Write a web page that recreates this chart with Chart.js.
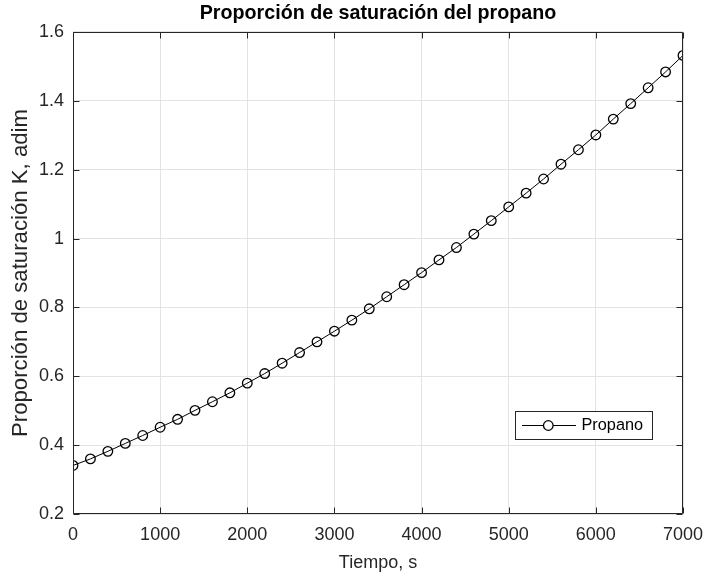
<!DOCTYPE html>
<html><head><meta charset="utf-8">
<script src="https://cdn.jsdelivr.net/npm/chart.js@4/dist/chart.umd.min.js"></script>
<style>html,body{margin:0;padding:0;background:#fff;} #wrap{width:706px;height:577px;}</style>
</head><body><div id="wrap"><canvas id="c" width="706" height="577"></canvas></div>
<script>
const timeS = [0,200,400,600,800,1000,1200,1400,1600,1800,2000,2200,2400,2600,2800,3000,3200,3400,3600,3800,4000,4200,4400,4600,4800,5000,5200,5400,5600,5800,6000,6200,6400,6600,6800,7000];
const kPropano = [0.341,0.360,0.382,0.405,0.428,0.452,0.475,0.501,0.526,0.552,0.580,0.608,0.638,0.669,0.700,0.731,0.763,0.796,0.831,0.866,0.901,0.938,0.974,1.013,1.052,1.092,1.132,1.173,1.216,1.258,1.301,1.347,1.392,1.438,1.484,1.532];
const xTickValues = [0,1000,2000,3000,4000,5000,6000,7000];
const xTickLabels = ['0','1000','2000','3000','4000','5000','6000','7000'];
const yTickValues = [0.2,0.4,0.6,0.8,1.0,1.2,1.4,1.6];
const yTickLabels = ['0.2','0.4','0.6','0.8','1','1.2','1.4','1.6'];
const seriesName = 'Propano';
const chartTitle = 'Proporción de saturación del propano';
const xAxisTitle = 'Tiempo, s';
const yAxisTitle = 'Proporción de saturación K, adim';

const FONT = "'Liberation Sans', Arial, Helvetica, sans-serif";
const AXC = '#262626';
const GRIDC = '#e3e3e3';

const points = timeS.map((t, i) => ({x: t, y: kPropano[i]}));

function labelFor(values, labels, v) {
  const i = values.findIndex(u => Math.abs(u - v) < 1e-9);
  return i >= 0 ? labels[i] : '';
}

const boxPlugin = {
  id: 'matlabBox',
  afterDatasetsDraw(chart) {
    const {ctx, chartArea: a, scales: {x, y}} = chart;
    ctx.save();
    ctx.strokeStyle = AXC;
    ctx.lineWidth = 1;
    const L = Math.round(a.left) + 0.5, R = Math.round(a.right) - 0.5;
    const T = Math.round(a.top) + 0.5, B = Math.round(a.bottom) - 0.5;
    ctx.beginPath();
    ctx.rect(L, T, R - L, B - T);
    const tl = 6;
    xTickValues.forEach(v => {
      const px = Math.round(x.getPixelForValue(v)) + 0.5;
      ctx.moveTo(px, B); ctx.lineTo(px, B - tl);
      ctx.moveTo(px, T); ctx.lineTo(px, T + tl);
    });
    yTickValues.forEach(v => {
      const py = Math.round(y.getPixelForValue(v)) + 0.5;
      ctx.moveTo(L, py); ctx.lineTo(L + tl, py);
      ctx.moveTo(R, py); ctx.lineTo(R - tl, py);
    });
    ctx.stroke();
    ctx.restore();
  },
  afterDraw(chart) {
    const {ctx, chartArea: a} = chart;
    const ds = chart.data.datasets[0];
    const w = 137, h = 28;
    const bx = Math.round(a.right - 31 - w), by = Math.round(a.bottom - 75 - h);
    ctx.save();
    ctx.fillStyle = '#fff';
    ctx.fillRect(bx, by, w, h);
    ctx.strokeStyle = AXC;
    ctx.lineWidth = 1;
    ctx.strokeRect(bx + 0.5, by + 0.5, w, h);
    const cy = by + h / 2 + 0.5;
    ctx.strokeStyle = ds.borderColor;
    ctx.lineWidth = ds.borderWidth;
    ctx.beginPath();
    ctx.moveTo(bx + 7, cy); ctx.lineTo(bx + 28.5, cy);
    ctx.moveTo(bx + 38, cy); ctx.lineTo(bx + 61, cy);
    ctx.stroke();
    ctx.lineWidth = ds.pointBorderWidth;
    ctx.beginPath();
    ctx.arc(bx + 33.3, cy, ds.pointRadius, 0, Math.PI * 2);
    ctx.stroke();
    ctx.fillStyle = '#000';
    ctx.font = '16.3px ' + FONT;
    ctx.textBaseline = 'middle';
    ctx.textAlign = 'left';
    ctx.fillText(ds.label, bx + 66.5, cy + 0.5);
    ctx.restore();
  }
};

new Chart(document.getElementById('c'), {
  type: 'line',
  data: {
    datasets: [{
      label: seriesName,
      data: points,
      borderColor: '#000',
      borderWidth: 1,
      pointStyle: 'circle',
      pointRadius: 4.8,
      pointBorderWidth: 1.3,
      pointBorderColor: '#000',
      pointBackgroundColor: 'rgba(0,0,0,0)',
      fill: false,
      tension: 0
    }]
  },
  options: {
    responsive: false,
    devicePixelRatio: 1,
    animation: false,
    layout: {padding: {left: 0, right: 23, top: 0, bottom: 0}},
    plugins: {
      legend: {display: false},
      tooltip: {enabled: false},
      title: {
        display: true,
        fullSize: false,
        text: chartTitle,
        color: '#000',
        font: {family: FONT, size: 19.7, weight: 'bold', lineHeight: 1.2},
        padding: {top: 2.0, bottom: 6.36}
      }
    },
    scales: {
      x: {
        type: 'linear',
        position: 'bottom',
        min: 0, max: 7000,
        afterBuildTicks: s => { s.ticks = xTickValues.map(v => ({value: v})); },
        afterFit: s => { s.height = 63; s.paddingLeft = 0; s.paddingRight = 0; },
        ticks: {
          callback: v => labelFor(xTickValues, xTickLabels, v),
          color: AXC, padding: 10, maxRotation: 0, autoSkip: false,
          font: {family: FONT, size: 18, lineHeight: 1.2}
        },
        grid: {color: GRIDC, drawTicks: false, lineWidth: 1},
        border: {display: false},
        title: {
          display: true, text: xAxisTitle, color: AXC,
          font: {family: FONT, size: 18, lineHeight: 1.2},
          padding: {top: 0, bottom: 3}
        }
      },
      y: {
        type: 'linear',
        min: 0.2, max: 1.6,
        afterBuildTicks: s => { s.ticks = yTickValues.map(v => ({value: v})); },
        afterFit: s => { s.width = 73; s.paddingTop = 0; s.paddingBottom = 0; },
        ticks: {
          callback: v => labelFor(yTickValues, yTickLabels, v),
          color: AXC, padding: 9, autoSkip: false,
          font: {family: FONT, size: 18, lineHeight: 1.2}
        },
        grid: {color: GRIDC, drawTicks: false, lineWidth: 1},
        border: {display: false},
        title: {
          display: true, text: yAxisTitle, color: AXC,
          font: {family: FONT, size: 22.2, lineHeight: 1.2},
          padding: {top: 8, bottom: 0}
        }
      }
    }
  },
  plugins: [boxPlugin]
});
</script>
</body></html>
